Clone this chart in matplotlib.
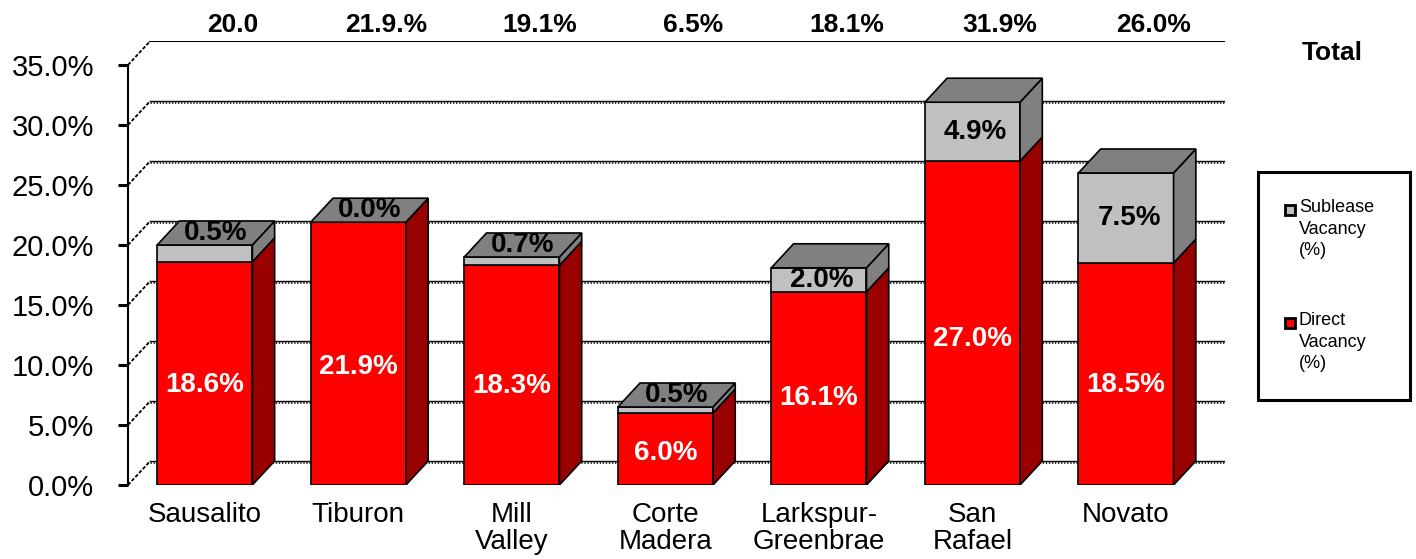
import matplotlib
matplotlib.use("Agg")
import matplotlib.pyplot as plt
from matplotlib.patches import Polygon, Rectangle
import numpy as np

plt.rcParams['font.family'] = ['Liberation Sans', 'DejaVu Sans']

# data
cities = ['Sausalito', 'Tiburon', 'Mill\nValley', 'Corte\nMadera',
          'Larkspur-\nGreenbrae', 'San\nRafael', 'Novato']
direct = [18.6, 21.9, 18.3, 6.0, 16.1, 27.0, 18.5]
sublease = [1.4, 0.0, 0.7, 0.5, 2.0, 4.9, 7.5]   # drawn heights
sublease_labels = ['0.5%', '0.0%', '0.7%', '0.5%', '2.0%', '4.9%', '7.5%']
total_labels = ['20.0', '21.9.%', '19.1%', '6.5%', '18.1%', '31.9%', '26.0%']
yticks = [0, 5, 10, 15, 20, 25, 30, 35]

RED, RED_SIDE = '#ff0000', '#990000'
GREY, GREY_DARK = '#c0c0c0', '#808080'

# depth of the fake 3d (category units / percent)
ddx, ddy = 0.145, 2.0
width = 0.62

fig = plt.figure(figsize=(14.16, 5.59), dpi=100)
ax = fig.add_axes([128 / 1416, 74 / 559, (1225 - 128) / 1416, (485 - 41) / 559])
ax.set_xlim(-0.5, 6.5 + ddx)
ax.set_ylim(0, 35 + ddy)

# walls / gridlines
x_left, x_right = -0.5, 6.5
for y in yticks:
    ax.plot([x_left, x_left + ddx], [y, y + ddy], color='black', lw=1.3,
            ls=(0, (2, 1)), zorder=1)
    if y == 35:
        ax.plot([x_left + ddx, x_right + ddx], [y + ddy, y + ddy],
                color='black', lw=1.5, zorder=1)
    else:
        ax.plot([x_left + ddx, x_right + ddx], [y + ddy, y + ddy],
                color='black', lw=1.0, zorder=1)
        ax.plot([x_left + ddx, x_right + ddx], [y + ddy - 0.12, y + ddy - 0.12],
                color='#222222', lw=2.0, ls=(0, (0.5, 0.6)), zorder=1)


def box(x0, y0, h, front, side, top, z):
    x1 = x0 + width
    y1 = y0 + h
    ax.add_patch(Rectangle((x0, y0), width, h, facecolor=front,
                           edgecolor='black', lw=1.2, zorder=z))
    ax.add_patch(Polygon([(x1, y0), (x1 + ddx, y0 + ddy), (x1 + ddx, y1 + ddy),
                          (x1, y1)], closed=True, facecolor=side,
                         edgecolor='black', lw=1.2, zorder=z))
    if top is not None:
        ax.add_patch(Polygon([(x0, y1), (x0 + ddx, y1 + ddy), (x1 + ddx, y1 + ddy),
                              (x1, y1)], closed=True, facecolor=top,
                             edgecolor='black', lw=1.2, zorder=z))


for i in range(len(cities)):
    x0 = i - width / 2
    box(x0, 0, direct[i], RED, RED_SIDE, None, 3)
    box(x0, direct[i], sublease[i], GREY, GREY_DARK, GREY_DARK, 4)

    # labels
    ax.text(i, direct[i] * 0.45, f'{direct[i]:.1f}%', color='white',
            fontsize=20, fontweight='bold', ha='center', va='center', zorder=6)
    top = direct[i] + sublease[i]
    if sublease[i] >= 2:
        ax.text(i + 0.02, direct[i] + sublease[i] / 2, sublease_labels[i],
                color='black', fontsize=20, fontweight='bold',
                ha='center', va='center', zorder=6)
    else:
        ax.text(i + ddx / 2, top + ddy / 2, sublease_labels[i], color='black',
                fontsize=20, fontweight='bold', ha='center', va='center',
                zorder=6)
    ax.text(i + 0.18, 38.3, total_labels[i], fontsize=19, fontweight='bold',
            ha='center', va='center', clip_on=False)

ax.text(7.345, 36.0, 'Total', fontsize=19, fontweight='bold',
        ha='center', va='center', clip_on=False)

# axes
for s in ['top', 'right', 'bottom']:
    ax.spines[s].set_visible(False)
ax.spines['left'].set_bounds(0, 35)
ax.spines['left'].set_linewidth(1.5)
ax.set_yticks(yticks)
ax.set_yticklabels([f'{v:.1f}%' for v in yticks], fontsize=21)
ax.tick_params(axis='y', length=7.5, width=2.2, pad=17)
ax.set_xticks(range(len(cities)))
ax.set_xticklabels(cities, fontsize=20, linespacing=1.05)
ax.tick_params(axis='x', length=0, pad=12)

# legend box
fig.add_artist(Rectangle((1258 / 1416, (559 - 400) / 559), 152 / 1416, 228 / 559,
                         transform=fig.transFigure, facecolor='white',
                         edgecolor='black', lw=2.2))
for (yc, col, label) in [(210, GREY, 'Sublease\nVacancy\n(%)'),
                         (323, RED, 'Direct\nVacancy\n(%)')]:
    fig.add_artist(Rectangle((1285 / 1416, (559 - yc - 5) / 559), 10 / 1416, 10 / 559,
                             transform=fig.transFigure, facecolor=col,
                             edgecolor='black', lw=2))
    fig.text(1299 / 1416, (559 - yc + 11) / 559, label, fontsize=13,
             ha='left', va='top', linespacing=1.35)

fig.savefig('out.png', dpi=100)
